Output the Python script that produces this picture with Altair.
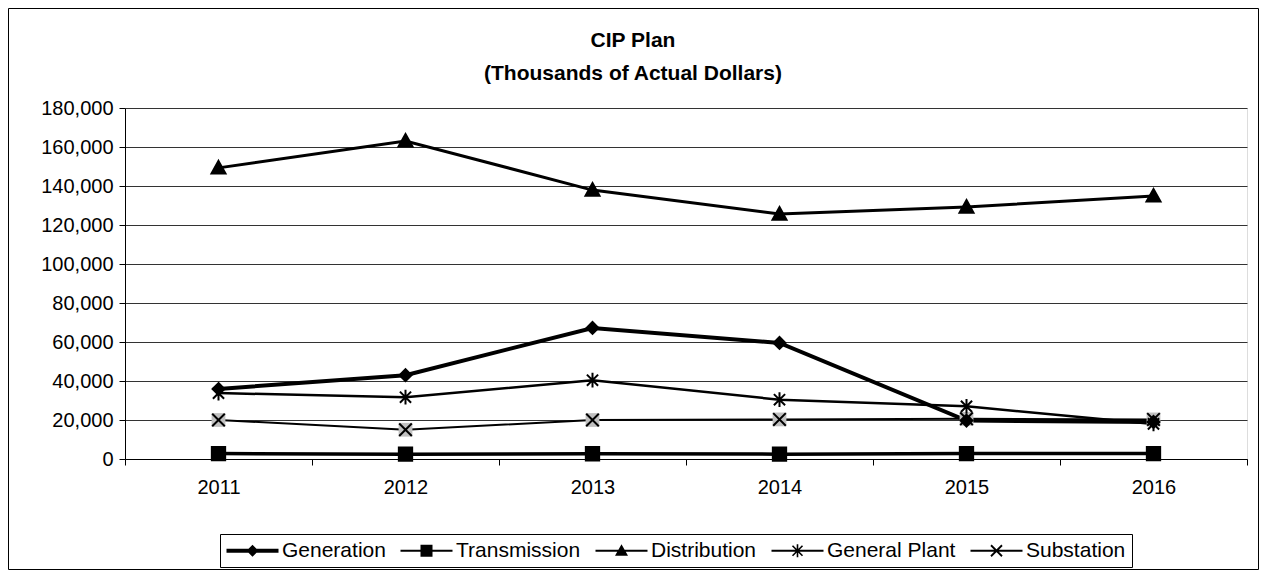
import math
import altair as alt
import pandas as pd

years = ["2011", "2012", "2013", "2014", "2015", "2016"]
series_names = ["Generation", "Transmission", "Distribution", "General Plant", "Substation"]
generation = [35900, 43000, 67200, 59500, 19700, 19000]
transmission = [2800, 2500, 2700, 2500, 2800, 2800]
distribution = [149300, 163100, 137900, 125600, 129200, 134900]
general_plant = [33800, 31700, 40400, 30400, 27000, 18000]
substation = [20000, 15000, 20000, 20300, 20600, 20300]
title_lines = ["CIP Plan", "(Thousands of Actual Dollars)"]

vals = [generation, transmission, distribution, general_plant, substation]
rows = []
for name, v in zip(series_names, vals):
    for yr, x in zip(years, v):
        rows.append({"year": yr, "series": name, "value": x})
df = pd.DataFrame(rows)

FONT = "Liberation Sans"
FS = 20
W, H = 1122, 351
LEFT, TOP = 125, 108


# ---- symbol path helpers (shape geometry only) ----
def poly(pts):
    area = sum(pts[i][0] * pts[(i + 1) % len(pts)][1] - pts[(i + 1) % len(pts)][0] * pts[i][1]
               for i in range(len(pts)))
    if area < 0:
        pts = pts[::-1]
    return "M" + "L".join(f"{x:.3f},{y:.3f}" for x, y in pts) + "Z"


def seg(x1, y1, x2, y2, w):
    dx, dy = x2 - x1, y2 - y1
    n = math.hypot(dx, dy)
    nx, ny = -dy / n * w, dx / n * w
    return poly([(x1 + nx, y1 + ny), (x2 + nx, y2 + ny), (x2 - nx, y2 - ny), (x1 - nx, y1 - ny)])


# marker shapes for the data points (unit square)
P_DIAMOND = "M0,-0.85L0.85,0L0,0.85L-0.85,0Z"
P_SQUARE = "M-0.95,-0.95L0.95,-0.95L0.95,0.95L-0.95,0.95Z"
P_TRI = "M0,-1L1,0.8L-1,0.8Z"
P_STAR = "M-0.8,-0.8L0.8,0.8M-0.8,0.8L0.8,-0.8M0,-1.05L0,1.05"
P_X = "M-0.9,-0.9L0.9,0.9M-0.9,0.9L0.9,-0.9"

# legend symbols: filled line + marker (1 unit = 10 px at symbolSize 400)
LL = 2.6
thin, thick = 0.1, 0.2
L_DIAMOND = seg(-LL, 0, LL, 0, thick) + poly([(0, -0.6), (0.6, 0), (0, 0.6), (-0.6, 0)])
L_SQUARE = seg(-LL, 0, LL, 0, thin) + poly([(-0.6, -0.6), (0.6, -0.6), (0.6, 0.6), (-0.6, 0.6)])
L_TRI = seg(-LL, 0, LL, 0, thin) + poly([(0, -0.65), (0.65, 0.5), (-0.65, 0.5)])
L_STAR = (seg(-LL, 0, LL, 0, thin) + seg(-0.5, -0.5, 0.5, 0.5, 0.08) + seg(-0.5, 0.5, 0.5, -0.5, 0.08)
          + seg(0, -0.65, 0, 0.65, 0.08))
L_X = seg(-LL, 0, LL, 0, thin) + seg(-0.55, -0.55, 0.55, 0.55, 0.09) + seg(-0.55, 0.55, 0.55, -0.55, 0.09)

x_enc = alt.X("year:O", title=None, sort=years,
              scale=alt.Scale(type="band", paddingInner=0, paddingOuter=0),
              axis=alt.Axis(labelAngle=0, tickBand="extent", tickSize=6, labelPadding=12,
                            domainColor="black", tickColor="black", labelColor="black",
                            labelFontSize=FS, labelFont=FONT, grid=False))
y_enc = alt.Y("value:Q", title=None,
              scale=alt.Scale(domain=[0, 180000], nice=False),
              axis=alt.Axis(values=list(range(0, 180001, 20000)), format=",.0f", tickSize=6,
                            domainColor="black", tickColor="black", labelColor="black",
                            labelFontSize=FS, labelFont=FONT, labelPadding=6,
                            grid=True, gridColor="#333333", gridWidth=1))

base = alt.Chart(df)

lines = base.mark_line(color="black").encode(
    x=x_enc, y=y_enc,
    detail="series:N",
    strokeWidth=alt.StrokeWidth("series:N", legend=None,
                                scale=alt.Scale(domain=series_names, range=[4, 2, 2, 2, 2])),
)

gray_sq = base.transform_filter(alt.datum.series == "Substation").mark_point(
    shape="square", filled=True, color="#c0c0c0", size=190, opacity=1
).encode(x=x_enc, y=y_enc)

points = base.mark_point(stroke="black", strokeWidth=2, opacity=1, size=196).encode(
    x=x_enc, y=y_enc,
    shape=alt.Shape("series:N", legend=None,
                    scale=alt.Scale(domain=series_names, range=[P_DIAMOND, P_SQUARE, P_TRI, P_STAR, P_X])),
    fill=alt.Fill("series:N", legend=None,
                  scale=alt.Scale(domain=series_names,
                                  range=["black", "black", "black", "transparent", "transparent"])),
)

legend_layer = base.transform_filter("false").mark_point(
    filled=True, color="black", opacity=1
).encode(
    x=x_enc, y=y_enc,
    shape=alt.Shape("series:N", title=None,
                    scale=alt.Scale(domain=series_names, range=[L_DIAMOND, L_SQUARE, L_TRI, L_STAR, L_X]),
                    legend=alt.Legend(orient="none", legendX=95, legendY=426,
                                      direction="horizontal", columns=5,
                                      symbolSize=400, symbolFillColor="black", symbolOpacity=1,
                                      symbolStrokeWidth=0, symbolOffset=16,
                                      labelFont=FONT, labelFontSize=21, labelColor="black",
                                      labelOffset=19, columnPadding=14,
                                      strokeColor="black", padding=6)),
)

border = alt.Chart(alt.Data(values=[{"a": 1}])).mark_rect(
    fill=None, stroke="black", strokeWidth=1, clip=False
).encode(
    x=alt.value(8.5 - LEFT), x2=alt.value(1258.5 - LEFT),
    y=alt.value(8.5 - TOP), y2=alt.value(569.5 - TOP),
)

title = alt.Chart(alt.Data(values=[{"t": title_lines}])).mark_text(
    font=FONT, fontSize=21, fontWeight="bold", color="black",
    align="center", baseline="top", lineHeight=33
).encode(
    text="t:N",
    x=alt.value(633 - LEFT), y=alt.value(30 - TOP),
)

chart = alt.layer(border, title, lines, gray_sq, points, legend_layer).resolve_scale(
    shape="independent", fill="independent", strokeWidth="independent"
).properties(
    width=W, height=H,
    padding={"left": LEFT - 8, "top": TOP - 8, "right": 12, "bottom": 111},
    autosize=alt.AutoSizeParams(type="none"),
).configure_view(stroke="#808080", strokeWidth=1).configure(background="white")

chart.save("out.html", embed_options={"renderer": "svg", "actions": False})
